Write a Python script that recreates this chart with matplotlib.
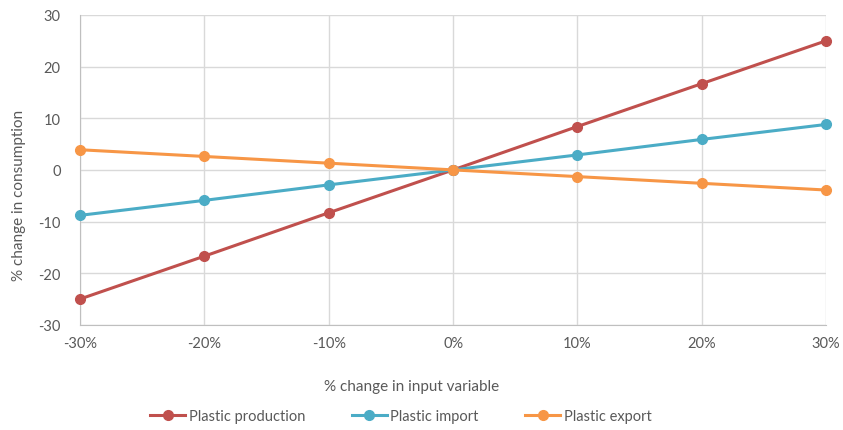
import matplotlib
matplotlib.use('Agg')
import matplotlib.pyplot as plt
from matplotlib.ticker import FuncFormatter

plt.rcParams['font.family'] = ['Lato', 'DejaVu Sans']
plt.rcParams['axes.unicode_minus'] = False

# % change in input variable
x_pct = [-30, -20, -10, 0, 10, 20, 30]
production = [-25.0, -16.7, -8.3, 0, 8.4, 16.7, 25.0]
imports = [-8.8, -5.9, -2.9, 0, 2.9, 5.9, 8.8]
exports = [3.9, 2.6, 1.3, 0, -1.3, -2.6, -3.9]

series = [
    ('Plastic production', production, '#C0504D'),
    ('Plastic import', imports, '#4BACC6'),
    ('Plastic export', exports, '#F79646'),
]

txt = '#595959'
grid = '#D9D9D9'

fig = plt.figure(figsize=(8.43, 4.31), dpi=100)
ax = fig.add_axes([0.095, 0.244, 0.885, 0.719])

for name, vals, col in series:
    ax.plot(x_pct, vals, color=col, lw=2.2, marker='o', ms=7, label=name,
            zorder=3, clip_on=False)

ax.set_xlim(-30, 30)
ax.set_ylim(-30, 30)
ax.set_xticks(x_pct)
ax.set_yticks(range(-30, 31, 10))
ax.xaxis.set_major_formatter(FuncFormatter(lambda v, p: '{:.0f}%'.format(v)))
ax.grid(True, color=grid, lw=1, zorder=0)
for s in ['top', 'right']:
    ax.spines[s].set_visible(False)
for s in ['left', 'bottom']:
    ax.spines[s].set_color('#BFBFBF')
ax.tick_params(length=0, labelsize=10.5, colors=txt, pad=8)
ax.tick_params(axis='y', pad=14)

ax.set_xlabel('% change in input variable', fontsize=11, color=txt)
ax.xaxis.set_label_coords(0.444, -0.175)
ax.set_ylabel('% change in consumption', fontsize=11, color=txt)
ax.yaxis.set_label_coords(-0.072, 0.42)

fig.legend(loc='center', bbox_to_anchor=(401 / 843, 0.033), ncol=3, frameon=False,
           fontsize=10.5, labelcolor=txt, handlelength=2.4, columnspacing=3.2,
           handletextpad=0.25)

plt.savefig('out.png', dpi=100)
plt.close()
